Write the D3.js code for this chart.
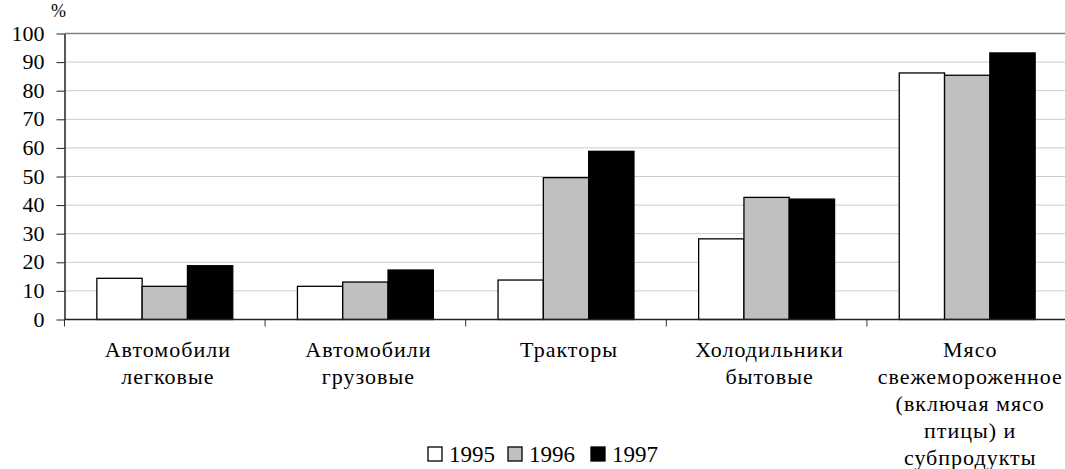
<!DOCTYPE html>
<html>
<head>
<meta charset="utf-8">
<script src="https://cdn.jsdelivr.net/npm/d3@7"></script>
</head>
<body style="margin:0">
<svg id="chart" width="1065" height="469"></svg>
<script>
// categories (line breaks as in the original)
const categories = [
  "Автомобили\nлегковые",
  "Автомобили\nгрузовые",
  "Тракторы",
  "Холодильники\nбытовые",
  "Мясо\nсвежемороженное\n(включая мясо\nптицы) и\nсубпродукты"
];
const years = ["1995", "1996", "1997"];
const values1995 = [14.4, 11.6, 13.8, 28.2, 86.2];
const values1996 = [11.6, 13.1, 49.6, 42.7, 85.4];
const values1997 = [18.8, 17.3, 58.8, 42.1, 93.2];
const yTicks = [0, 10, 20, 30, 40, 50, 60, 70, 80, 90, 100];
const colors = { "1995": "#ffffff", "1996": "#c0c0c0", "1997": "#000000" };

const serifFace = "Times New Roman";

const series = [values1995, values1996, values1997];
const rows = categories.map(function(c, i) {
  return { cat: c, vals: years.map(function(y, j) { return { year: y, value: series[j][i] }; }) };
});

const svg = d3.select("#chart");

const plotLeft = 64.5, plotTop = 33.5, plotBottom = 319.5, step = 200.6;

var y = d3.scaleLinear().domain([0, 100]).range([plotBottom, plotTop]);
var x0 = d3.scaleBand().domain(categories).range([plotLeft, plotLeft + step * categories.length]).padding(0);
var x1 = d3.scaleBand().domain(years).range([0, x0.bandwidth()]).paddingInner(0).paddingOuter(0.714);

// gridlines
svg.append("g")
  .selectAll("line")
  .data(yTicks.filter(function(d) { return d > 0; }))
  .enter()
  .append("line")
  .attr("x1", plotLeft)
  .attr("x2", 1065)
  .attr("y1", function(d) { return y(d); })
  .attr("y2", function(d) { return y(d); })
  .attr("stroke", function(d) { return d === 100 ? "#808080" : "#cccccc"; })
  .attr("stroke-width", function(d) { return d === 100 ? 1.5 : 1; })
  ;

// bars
var groups = svg.append("g")
  .selectAll("g")
  .data(rows)
  .enter()
  .append("g")
  .attr("transform", function(d) { return "translate(" + x0(d.cat) + ",0)"; })
  ;

groups.selectAll("rect")
  .data(function(d) { return d.vals; })
  .enter()
  .append("rect")
  .attr("x", function(d) { return x1(d.year); })
  .attr("width", x1.bandwidth())
  .attr("y", function(d) { return y(d.value); })
  .attr("height", function(d) { return y(0) - y(d.value); })
  .attr("fill", function(d) { return colors[d.year]; })
  .attr("stroke", "#000")
  .attr("stroke-width", 1.3)
  ;

// y axis (tick lines from d3, labels drawn as plain texts)
var yAxis = svg.append("g")
  .attr("transform", "translate(" + plotLeft + ",0)")
  .call(d3.axisLeft(y).tickValues(yTicks).tickSize(8).tickFormat("").tickSizeOuter(0))
  ;
yAxis.select(".domain").attr("stroke", "#000").attr("stroke-width", 1.3);
yAxis.selectAll(".tick line").attr("stroke", "#222");

svg.selectAll("text.ylab")
  .data(yTicks)
  .enter()
  .append("text")
  .attr("class", "ylab")
  .attr("x", plotLeft - 20)
  .attr("y", function(d) { return y(d) + 7; })
  .attr("text-anchor", "end")
  .attr("font-family", serifFace)
  .attr("font-size", 22)
  .text(function(d) { return d; })
  ;

svg.append("text")
  .text("%")
  .attr("x", 51)
  .attr("y", 17)
  .attr("font-family", serifFace)
  .attr("font-size", 18)
  ;

// x axis line and boundary ticks
svg.append("line")
  .attr("x1", plotLeft)
  .attr("x2", 1065)
  .attr("y1", plotBottom)
  .attr("y2", plotBottom)
  .attr("stroke", "#222")
  .attr("stroke-width", 1.3)
  ;

var bounds = categories.map(function(c) { return x0(c); });
svg.append("g")
  .selectAll("line")
  .data(bounds)
  .enter()
  .append("line")
  .attr("x1", function(d) { return d; })
  .attr("x2", function(d) { return d; })
  .attr("y1", plotBottom)
  .attr("y2", plotBottom + 7)
  .attr("stroke", "#333")
  ;

// category labels, one text per line
var labelLines = [];
categories.forEach(function(c) {
  c.split("\n").forEach(function(line, i) {
    labelLines.push({ cat: c, line: line, row: i });
  });
});

svg.selectAll("text.xlab")
  .data(labelLines)
  .enter()
  .append("text")
  .attr("class", "xlab")
  .attr("x", function(d) { return x0(d.cat) + x0.bandwidth() / 2 + 3; })
  .attr("y", function(d) { return 357 + d.row * 27; })
  .attr("text-anchor", "middle")
  .attr("font-family", serifFace)
  .attr("font-size", 22)
  .attr("letter-spacing", 1)
  .text(function(d) { return d.line; })
  ;

// legend
var legendX = [428, 508, 591];

svg.selectAll("rect.legbox")
  .data(years)
  .enter()
  .append("rect")
  .attr("class", "legbox")
  .attr("x", function(d, i) { return legendX[i]; })
  .attr("y", 447)
  .attr("width", 14)
  .attr("height", 14)
  .attr("fill", function(d) { return colors[d]; })
  .attr("stroke", "#000")
  .attr("stroke-width", 1.3)
  ;

svg.selectAll("text.leglab")
  .data(years)
  .enter()
  .append("text")
  .attr("class", "leglab")
  .attr("x", function(d, i) { return legendX[i] + 21; })
  .attr("y", 462)
  .attr("font-family", serifFace)
  .attr("font-size", 23)
  .text(function(d) { return d; })
  ;
</script>
</body>
</html>
